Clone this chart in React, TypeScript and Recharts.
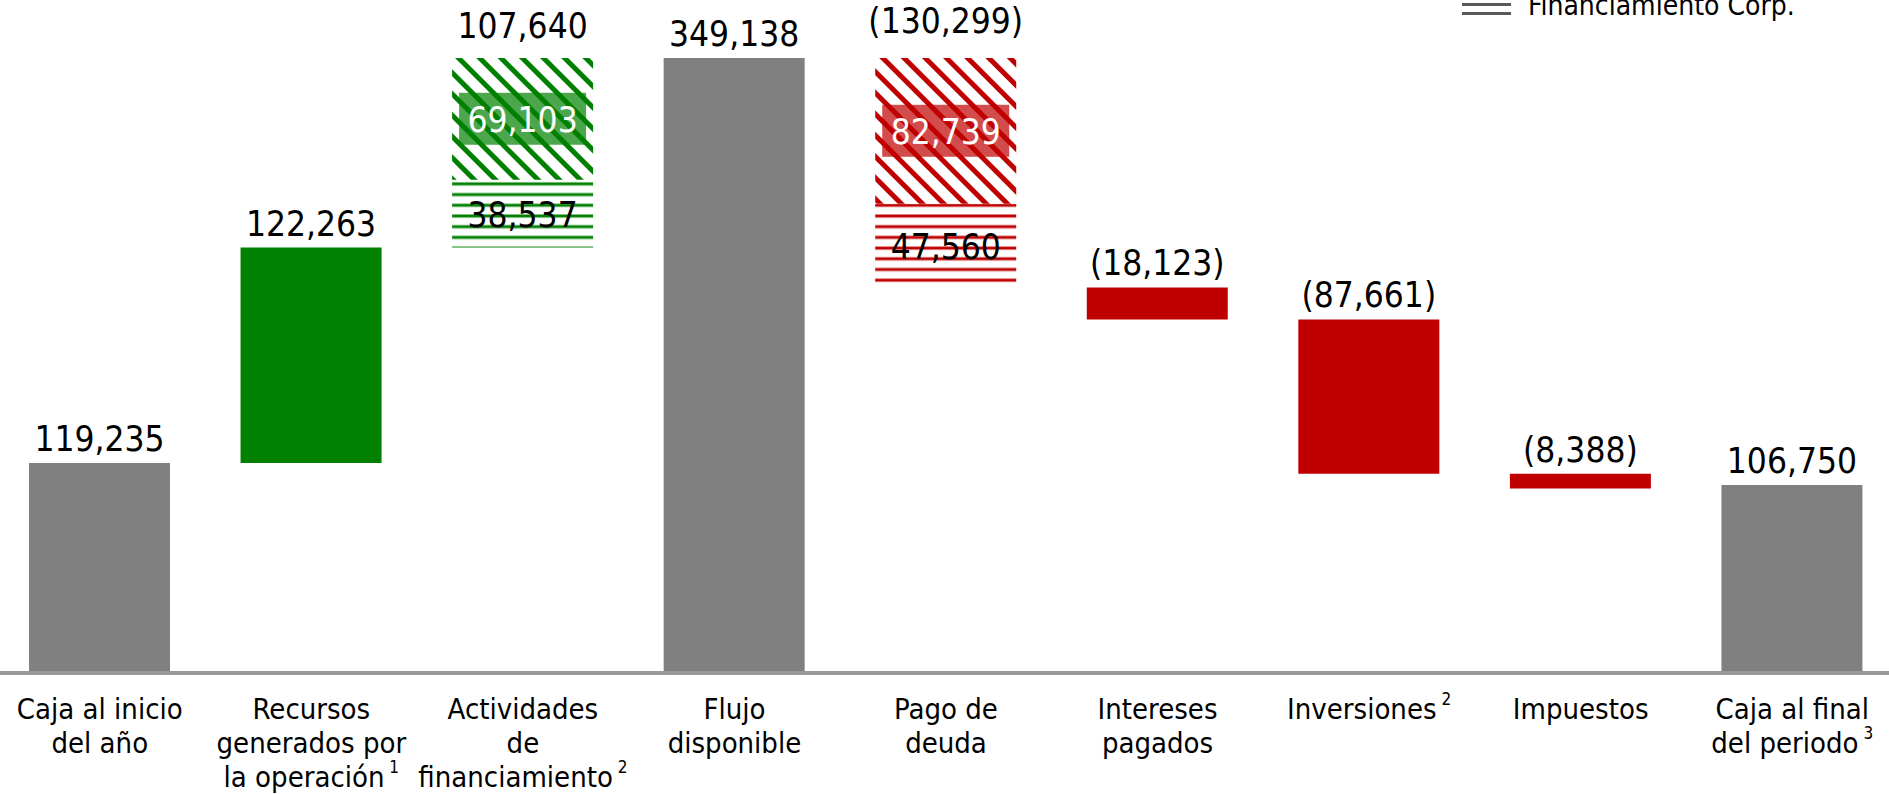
import { BarChart, Bar, XAxis, YAxis, LabelList } from 'recharts'

const categories = [
  'Caja al inicio del año',
  'Recursos generados por la operación',
  'Actividades de financiamiento',
  'Flujo disponible',
  'Pago de deuda',
  'Intereses pagados',
  'Inversiones',
  'Impuestos',
  'Caja al final del periodo',
]
const tickLines = [
  ['Caja al inicio', 'del año'],
  ['Recursos', 'generados por', 'la operación'],
  ['Actividades', 'de', 'financiamiento'],
  ['Flujo', 'disponible'],
  ['Pago de', 'deuda'],
  ['Intereses', 'pagados'],
  ['Inversiones'],
  ['Impuestos'],
  ['Caja al final', 'del periodo'],
]
const footnotes = ['', '1', '2', '', '', '', '2', '', '3']
const amounts = [119235, 122263, 107640, 349138, -130299, -18123, -87661, -8388, 106750]
const isTotal = [true, false, false, true, false, false, false, false, true]
// split of the financing bars: corporate financing (lines) and the rest (diagonal)
const corpFinancing = [0, 0, 38537, 0, 47560, 0, 0, 0, 0]
const otherFinancing = [0, 0, 69103, 0, 82739, 0, 0, 0, 0]

const GRAY = '#808080'
const GREEN = '#008000'
const RED = '#C00000'
const FONT = "'DejaVu Sans Condensed', 'DejaVu Sans', sans-serif"

const fmt = (v: number) => (v < 0 ? `(${Math.abs(v).toLocaleString('en-US')})` : v.toLocaleString('en-US'))

let running = 0
const rows = categories.map((name, i) => {
  const v = amounts[i]
  const corp = corpFinancing[i]
  const other = otherFinancing[i]
  const row: any = {
    name, base: 0, total: 0, up: 0, down: 0,
    upLines: 0, upDiag: 0, downLines: 0, downDiag: 0,
  }
  if (isTotal[i]) {
    row.total = v
    row.totalLabel = fmt(v)
    running = v
  } else if (v >= 0) {
    row.base = running
    running += v
    if (corp > 0) {
      row.upLines = corp
      row.upDiag = other
      row.upLinesLabel = fmt(corp)
      row.upDiagLabel = fmt(other)
      row.upTop = fmt(v)
    } else {
      row.up = v
      row.upLabel = fmt(v)
    }
  } else {
    running += v
    row.base = running
    if (corp > 0) {
      row.downLines = corp
      row.downDiag = other
      row.downLinesLabel = fmt(corp)
      row.downDiagLabel = fmt(other)
      row.downTop = fmt(v)
    } else {
      row.down = -v
      row.downLabel = fmt(v)
    }
  }
  return row
})

const box = (p: any) => {
  const vb = p.viewBox && typeof p.viewBox.x === 'number' ? p.viewBox : p
  return { x: Number(vb.x), y: Number(vb.y), w: Number(vb.width), h: Number(vb.height) }
}

const topLabel = (gap: number) => (p: any) => {
  if (p.value === undefined || p.value === null || p.value === '') return null
  const { x, y, w } = box(p)
  return (
    <text x={x + w / 2} y={y - gap} textAnchor="middle" fontSize={35} fill="#000" fontFamily={FONT}>
      {p.value}
    </text>
  )
}

const insideLabel = (p: any) => {
  if (p.value === undefined || p.value === null || p.value === '') return null
  const { x, y, w, h } = box(p)
  return (
    <text x={x + w / 2} y={y + h / 2 + 13} textAnchor="middle" fontSize={35} fill="#000" fontFamily={FONT}>
      {p.value}
    </text>
  )
}

const boxLabel = (color: string) => (p: any) => {
  if (p.value === undefined || p.value === null || p.value === '') return null
  const { x, y, w, h } = box(p)
  const cy = y + h / 2
  return (
    <g>
      <rect x={x + 7} y={cy - 26} width={w - 14} height={52} fill={color} fillOpacity={0.7} />
      <text x={x + w / 2} y={cy + 13} textAnchor="middle" fontSize={35} fill="#fff" fontFamily={FONT}>
        {p.value}
      </text>
    </g>
  )
}

const CategoryTick = ({ x, y, payload }: any) => {
  const i = categories.indexOf(payload.value)
  const lines = tickLines[i] || []
  return (
    <g transform={`translate(${x},${y})`}>
      <text textAnchor="middle" fontSize={29} fill="#000" fontFamily={FONT}>
        {lines.map((l, k) => (
          <tspan key={k} x={0} y={46 + k * 34}>
            {l}
            {k === lines.length - 1 && footnotes[i] ? (
              <tspan dy={-14} fontSize={17}>{' ' + footnotes[i]}</tspan>
            ) : null}
          </tspan>
        ))}
      </text>
    </g>
  )
}

export default function App() {
  return (
    <div style={{ position: 'absolute', left: 0, top: 0, width: 1889, height: 794, overflow: 'hidden', background: '#fff' }}>
      <div style={{ position: 'absolute', left: -6, top: 0 }}>
        <BarChart width={1904} height={794} data={rows} margin={{ top: 0, right: 0, bottom: 0, left: 0 }} barSize={141}>
          <defs>
            <pattern id="diagGreen" patternUnits="userSpaceOnUse" width={15} height={15} patternTransform="rotate(-45)">
              <rect width={15} height={15} fill="#fff" />
              <rect x={0} y={0} width={5} height={15} fill={GREEN} />
            </pattern>
            <pattern id="diagRed" patternUnits="userSpaceOnUse" width={15} height={15} patternTransform="rotate(-45)">
              <rect width={15} height={15} fill="#fff" />
              <rect x={0} y={0} width={5} height={15} fill={RED} />
            </pattern>
            <pattern id="linesGreen" patternUnits="userSpaceOnUse" width={10} height={10.7}>
              <rect width={10} height={10.7} fill="#fff" />
              <rect x={0} y={0} width={10} height={4} fill="#80c080" />
              <rect x={0} y={1} width={10} height={2} fill={GREEN} />
            </pattern>
            <pattern id="linesRed" patternUnits="userSpaceOnUse" width={10} height={10.7}>
              <rect width={10} height={10.7} fill="#fff" />
              <rect x={0} y={0} width={10} height={4} fill="#e08080" />
              <rect x={0} y={1} width={10} height={2} fill={RED} />
            </pattern>
          </defs>
          <XAxis
            dataKey="name"
            height={121}
            interval={0}
            tickLine={false}
            tickSize={0}
            tickMargin={0}
            axisLine={{ stroke: '#999999', strokeWidth: 4 }}
            tick={<CategoryTick />}
          />
          <YAxis hide domain={[0, 382000]} />
          <Bar dataKey="base" stackId="w" fill="transparent" isAnimationActive={false} />
          <Bar dataKey="total" stackId="w" fill={GRAY} isAnimationActive={false}>
            <LabelList dataKey="totalLabel" content={topLabel(12)} />
          </Bar>
          <Bar dataKey="up" stackId="w" fill={GREEN} isAnimationActive={false}>
            <LabelList dataKey="upLabel" content={topLabel(12)} />
          </Bar>
          <Bar dataKey="down" stackId="w" fill={RED} isAnimationActive={false}>
            <LabelList dataKey="downLabel" content={topLabel(12)} />
          </Bar>
          <Bar dataKey="upLines" stackId="w" fill="url(#linesGreen)" isAnimationActive={false}>
            <LabelList dataKey="upLinesLabel" content={insideLabel} />
          </Bar>
          <Bar dataKey="upDiag" stackId="w" fill="url(#diagGreen)" isAnimationActive={false}>
            <LabelList dataKey="upDiagLabel" content={boxLabel(GREEN)} />
            <LabelList dataKey="upTop" content={topLabel(20)} />
          </Bar>
          <Bar dataKey="downLines" stackId="w" fill="url(#linesRed)" isAnimationActive={false}>
            <LabelList dataKey="downLinesLabel" content={insideLabel} />
          </Bar>
          <Bar dataKey="downDiag" stackId="w" fill="url(#diagRed)" isAnimationActive={false}>
            <LabelList dataKey="downDiagLabel" content={boxLabel(RED)} />
            <LabelList dataKey="downTop" content={topLabel(25)} />
          </Bar>
        </BarChart>
      </div>
      <svg style={{ position: 'absolute', left: 1450, top: 0 }} width={439} height={40}>
        <rect x={12} y={3} width={49} height={3} fill="#595959" />
        <rect x={12} y={12} width={49} height={3} fill="#595959" />
        <text x={78} y={15} fontSize={28} fill="#000" fontFamily={FONT}>
          Financiamiento Corp.
        </text>
      </svg>
    </div>
  )
}
